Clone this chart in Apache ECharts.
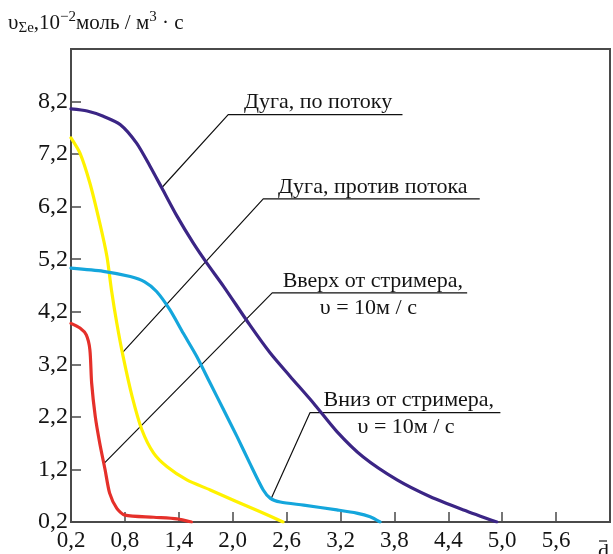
<!DOCTYPE html>
<html><head><meta charset="utf-8">
<script src="https://cdn.jsdelivr.net/npm/echarts@6/dist/echarts.min.js"></script>
<style>html,body{margin:0;padding:0;background:#fff}#c{width:613px;height:554px}</style>
</head><body><div id="c"></div>
<script>
// ---- data ----
const xTickLabels = ['0,2','0,8','1,4','2,0','2,6','3,2','3,8','4,4','5,0','5,6',''];
const yTickLabels = ['0,2','1,2','2,2','3,2','4,2','5,2','6,2','7,2','8,2',''];

const purpleX = [0.2,0.38,0.56,0.75,0.93,1.08,1.21,1.38,1.56,1.71,1.90,2.19,2.42,2.64,2.90,3.16,3.45,3.83,4.20,4.57,4.94];
const purpleY = [8.06,8.02,7.92,7.76,7.41,6.97,6.56,6.02,5.51,5.13,4.68,3.95,3.41,2.97,2.46,1.92,1.44,1.00,0.68,0.43,0.2];

const yellowX = [0.2,0.30,0.41,0.52,0.60,0.65,0.71,0.78,0.88,0.99,1.12,1.27,1.49,1.75,2.04,2.30,2.56];
const yellowY = [7.51,7.22,6.65,5.89,5.25,4.62,3.98,3.35,2.59,1.95,1.51,1.25,1.00,0.81,0.59,0.40,0.2];

const blueX = [0.2,0.56,0.86,1.02,1.15,1.30,1.45,1.60,1.75,1.90,2.05,2.19,2.34,2.42,2.53,2.79,3.16,3.38,3.53,3.64];
const blueY = [5.03,4.97,4.87,4.77,4.59,4.24,3.79,3.35,2.84,2.33,1.82,1.32,0.81,0.65,0.58,0.52,0.43,0.37,0.30,0.2];

const redX = [0.2,0.30,0.37,0.41,0.43,0.47,0.52,0.58,0.63,0.71,0.80,1.12,1.38,1.54];
const redY = [3.98,3.89,3.76,3.48,2.84,2.21,1.70,1.19,0.75,0.46,0.33,0.29,0.26,0.2];

// leader lines: curve point -> elbow -> end of underline (data coordinates)
const leaderPurple = [[1.21,6.56],[1.95,7.95],[3.89,7.95]];
const leaderYellow = [[0.76,3.40],[2.34,6.35],[4.75,6.35]];
const leaderRed    = [[0.56,1.30],[2.44,4.56],[4.61,4.56]];
const leaderBlue   = [[2.43,0.65],[2.86,2.28],[4.98,2.28]];

// annotation texts: [x, y, text, side]
const notes = [
  [2.95, 7.95, 'Дуга, по потоку', 'top'],
  [3.56, 6.35, 'Дуга, против потока', 'top'],
  [3.56, 4.56, 'Вверх от стримера,', 'top'],
  [3.51, 4.56, 'υ = 10м / с', 'bottom'],
  [3.96, 2.28, 'Вниз от стримера,', 'top'],
  [3.93, 2.28, 'υ = 10м / с', 'bottom']
];

// ---- chart ----
const FONT = 'Liberation Serif';
const TXT = '#141414';
const AXC = '#4a4a4a';
const zip = (xs, ys) => xs.map((x, i) => [x, ys[i]]);

function curve(name, xs, ys, color) {
  return {
    name, type: 'line', data: zip(xs, ys), showSymbol: false, symbol: 'none',
    smooth: 0.25, z: 3,
    lineStyle: { color, width: 3.2, cap: 'round', join: 'round' }
  };
}
function leader(name, pts) {
  return {
    name, type: 'line', data: pts, showSymbol: false, symbol: 'none', z: 2,
    lineStyle: { color: '#111', width: 1.2 }
  };
}

const chart = echarts.init(document.getElementById('c'), null, { renderer: 'canvas' });
chart.setOption({
  animation: false,
  backgroundColor: '#fff',
  title: {
    left: 8, top: 10, padding: 0,
    text: '{a|υ}{s|Σe}{a|,10}{p|−2}{a|моль / м}{p|3}{a| · с}',
    textStyle: {
      fontWeight: 'normal',
      rich: {
        a: { fontFamily: FONT, fontSize: 21, fontWeight: 'normal', color: TXT, lineHeight: 26, verticalAlign: 'middle' },
        s: { fontFamily: FONT, fontSize: 15, fontWeight: 'normal', color: TXT, lineHeight: 14, verticalAlign: 'bottom' },
        p: { fontFamily: FONT, fontSize: 15, fontWeight: 'normal', color: TXT, lineHeight: 8, verticalAlign: 'top' }
      }
    }
  },
  grid: { left: 71, right: 3, top: 49, bottom: 32, show: true, borderColor: AXC, borderWidth: 2, containLabel: false },
  xAxis: {
    type: 'value', min: 0.2, max: 6.2, interval: 0.6,
    axisLine: { show: true, lineStyle: { color: AXC, width: 2 } },
    axisTick: { show: true, inside: true, length: 10, lineStyle: { color: AXC, width: 1.5 } },
    splitLine: { show: false },
    axisLabel: {
      margin: 7, fontFamily: FONT, fontSize: 23, color: TXT,
      formatter: (v, i) => xTickLabels[i] !== undefined ? xTickLabels[i] : ''
    }
  },
  yAxis: {
    type: 'value', min: 0.2, max: 9.2, interval: 1,
    axisLine: { show: true, lineStyle: { color: AXC, width: 2 } },
    axisTick: { show: true, inside: true, length: 10, lineStyle: { color: AXC, width: 1.5 } },
    splitLine: { show: false },
    axisLabel: {
      margin: 3, fontFamily: FONT, fontSize: 24, color: TXT,
      formatter: (v, i) => yTickLabels[i] !== undefined ? yTickLabels[i] : ''
    }
  },
  graphic: [
    { type: 'text', left: 598, top: 541, style: { text: 'd', font: '22px "Liberation Serif"', fill: TXT } },
    { type: 'line', shape: { x1: 599, y1: 541, x2: 607, y2: 541 }, style: { stroke: TXT, lineWidth: 1.2 } }
  ],
  series: [
    leader('l1', leaderPurple),
    leader('l2', leaderYellow),
    leader('l3', leaderRed),
    leader('l4', leaderBlue),
    curve('Дуга, по потоку', purpleX, purpleY, '#3b2585'),
    curve('Дуга, против потока', yellowX, yellowY, '#fff200'),
    curve('Вверх от стримера', redX, redY, '#e5302a'),
    curve('Вниз от стримера', blueX, blueY, '#14a6dc'),
    {
      name: 'notes', type: 'scatter', symbolSize: 0, z: 4, silent: true,
      itemStyle: { opacity: 1 },
      data: notes.map(n => ({ value: [n[0], n[1]], name: n[2],
        label: { position: n[3], distance: n[3] === 'top' ? 1 : 4 } })),
      label: { show: true, formatter: p => p.name, fontFamily: FONT, fontSize: 22, color: TXT, lineHeight: 22, opacity: 1 }
    }
  ]
});
</script></body></html>
